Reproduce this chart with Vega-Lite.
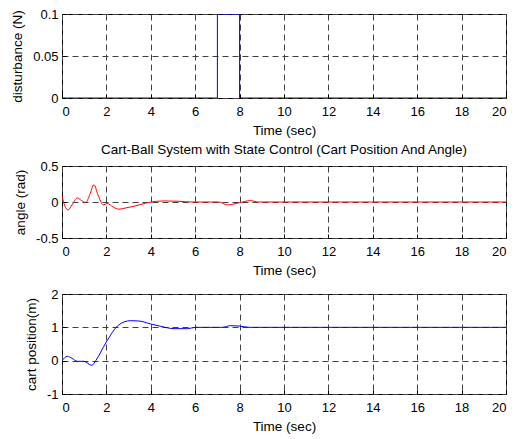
{
  "$schema": "https://vega.github.io/schema/vega-lite/v6.json",
  "padding": {"left": 10, "top": 7, "right": 5, "bottom": 5},
  "background": "white",
  "spacing": 5,
  "config": {
    "font": "Liberation Sans",
    "view": {"stroke": "black", "strokeWidth": 1},
    "axis": {
      "labelFont": "Liberation Sans", "titleFont": "Liberation Sans",
      "labelFontSize": 13, "titleFontSize": 13.5, "titleFontWeight": "normal",
      "labelColor": "black", "titleColor": "black",
      "domain": false, "tickColor": "black", "tickSize": -4,
      "grid": true, "gridColor": "#404040", "gridDash": [6, 4], "gridOpacity": 1,
      "labelExpr": "'' + datum.value"
    },
    "axisX": {"labelPadding": 11, "titlePadding": 5},
    "axisY": {"labelPadding": 8, "titlePadding": 8},
    "title": {"font": "Liberation Sans", "fontSize": 13.5, "fontWeight": "normal", "color": "black", "offset": 4}
  },
  "vconcat": [
    {
      "width": 444, "height": 84,
      "data": {"values": [
        {"t": 0, "d": 0}, {"t": 7, "d": 0}, {"t": 7, "d": 0.1}, {"t": 8, "d": 0.1}, {"t": 8, "d": 0}, {"t": 20, "d": 0}
      ]},
      "mark": {"type": "line", "color": "#0000ff", "strokeWidth": 1, "clip": true},
      "encoding": {
        "x": {"field": "t", "type": "quantitative", "scale": {"domain": [0, 20], "nice": false}, "axis": {"values": [0,2,4,6,8,10,12,14,16,18,20], "title": "Time (sec)"}},
        "y": {"field": "d", "type": "quantitative", "scale": {"domain": [0, 0.1], "nice": false, "zero": false}, "axis": {"values": [0, 0.05, 0.1], "title": "disturbance (N)"}}
      }
    },
    {
      "spacing": 10,
      "vconcat": [
        {
          "width": 444, "height": 72,
          "title": "Cart-Ball System with State Control (Cart Position And Angle)",
          "data": {"values": [
            {"t": 0, "a": 0.088}, {"t": 0.12, "a": -0.05}, {"t": 0.27, "a": -0.11}, {"t": 0.45, "a": -0.04}, {"t": 0.69, "a": 0.056},
            {"t": 0.88, "a": 0.02}, {"t": 1.07, "a": -0.005}, {"t": 1.25, "a": 0.1}, {"t": 1.44, "a": 0.24}, {"t": 1.62, "a": 0.1},
            {"t": 1.86, "a": -0.04}, {"t": 2.04, "a": -0.02}, {"t": 2.3, "a": -0.07}, {"t": 2.57, "a": -0.1}, {"t": 2.9, "a": -0.08},
            {"t": 3.24, "a": -0.06}, {"t": 3.6, "a": -0.03}, {"t": 3.92, "a": -0.005}, {"t": 4.6, "a": 0.015}, {"t": 5.27, "a": 0.01},
            {"t": 5.87, "a": 0}, {"t": 7.07, "a": 0}, {"t": 7.45, "a": -0.04}, {"t": 7.97, "a": -0.012}, {"t": 8.5, "a": 0.02},
            {"t": 8.8, "a": 0}, {"t": 20, "a": 0}
          ]},
          "mark": {"type": "line", "color": "#ff0000", "strokeWidth": 1, "interpolate": "monotone", "clip": true},
          "encoding": {
            "x": {"field": "t", "type": "quantitative", "scale": {"domain": [0, 20], "nice": false}, "axis": {"values": [0,2,4,6,8,10,12,14,16,18,20], "title": "Time (sec)"}},
            "y": {"field": "a", "type": "quantitative", "scale": {"domain": [-0.5, 0.5], "nice": false}, "axis": {"values": [-0.5, 0, 0.5], "title": "angle (rad)"}}
          }
        },
        {
          "width": 444, "height": 100,
          "data": {"values": [
            {"t": 0, "p": 0}, {"t": 0.24, "p": 0.13}, {"t": 0.45, "p": 0.07}, {"t": 0.69, "p": -0.02}, {"t": 0.99, "p": -0.02},
            {"t": 1.34, "p": -0.14}, {"t": 1.52, "p": 0}, {"t": 1.97, "p": 0.53}, {"t": 2.57, "p": 1.08}, {"t": 3.09, "p": 1.2},
            {"t": 3.47, "p": 1.19}, {"t": 4.0, "p": 1.1}, {"t": 4.45, "p": 1.03}, {"t": 5.05, "p": 0.96}, {"t": 5.65, "p": 0.96},
            {"t": 6.02, "p": 1.0}, {"t": 7.22, "p": 1.0}, {"t": 7.59, "p": 1.05}, {"t": 7.97, "p": 1.04}, {"t": 8.42, "p": 1.0},
            {"t": 20, "p": 1.0}
          ]},
          "mark": {"type": "line", "color": "#0000ff", "strokeWidth": 1, "interpolate": "monotone", "clip": true},
          "encoding": {
            "x": {"field": "t", "type": "quantitative", "scale": {"domain": [0, 20], "nice": false}, "axis": {"values": [0,2,4,6,8,10,12,14,16,18,20], "title": "Time (sec)"}},
            "y": {"field": "p", "type": "quantitative", "scale": {"domain": [-1, 2], "nice": false}, "axis": {"values": [-1, 0, 1, 2], "title": "cart position(m)"}}
          }
        }
      ]
    }
  ]
}
